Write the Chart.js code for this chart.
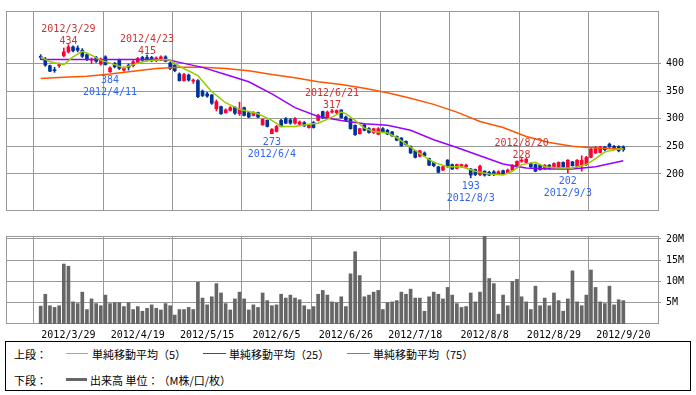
<!DOCTYPE html>
<html>
<head>
<meta charset="utf-8">
<script src="https://cdn.jsdelivr.net/npm/chart.js@4.4.0/dist/chart.umd.min.js"></script>
<style>
  body { margin: 0; background: #fff; width: 696px; height: 395px; overflow: hidden; position: relative; }
  #price { position: absolute; left: 0; top: 0; }
  #vol { position: absolute; left: 0; top: 225px; }
  #legend { position: absolute; left: 5px; top: 341px; width: 686px; height: 50px; box-sizing: border-box;
            border: 1px solid #000; font-family: "Noto Sans CJK JP", sans-serif; font-size: 11px; color: #000;
            text-spacing-trim: space-all; }
  #legend span { position: absolute; white-space: nowrap; line-height: 14px; }
  #legend i { position: absolute; display: block; }
</style>
</head>
<body>
<canvas id="price" width="696" height="222"></canvas>
<canvas id="vol" width="696" height="116"></canvas>
<div id="legend">
  <span style="left:8px;top:5px">上段：</span>
  <i style="left:60px;top:11px;width:22px;height:1px;background:#99cc00"></i>
  <span style="left:86px;top:5px">単純移動平均（5）</span>
  <i style="left:197px;top:11px;width:23px;height:1px;background:#9900ff"></i>
  <span style="left:223px;top:5px">単純移動平均（25）</span>
  <i style="left:341px;top:11px;width:23px;height:1px;background:#ff5500"></i>
  <span style="left:367px;top:5px">単純移動平均（75）</span>
  <span style="left:8px;top:31px">下段：</span>
  <i style="left:60px;top:36px;width:21px;height:3px;background:#666"></i>
  <span style="left:84px;top:31px">出来高 単位：（M株/口/枚）</span>
</div>
<script>
// 四本値 (index 0 = 2012/3/21 ... 126 = 2012/9/20)
const opens = [
  413,408,396,388,396,414,421,430,428,424,416,406,411,399,412,385,400,406,388,397,
  396,402,411,411,411,405,407,412,401,397,381,369,379,368,369,350,345,343,318,322,
  311,315,321,309,320,311,306,311,289,297,273,277,297,300,298,292,290,293,284,293,
  297,313,302,312,311,316,303,299,288,273,289,282,275,272,282,279,276,268,265,259,
  250,242,232,238,228,221,213,207,225,217,210,213,213,209,208,199,205,203,204,200,
  206,202,207,213,223,221,219,217,216,209,216,211,210,221,210,222,213,217,217,230,
  238,239,249,254,250,250,249
];
const highs = [
  416,411,397,393,401,428,434,432,432,427,419,410,413,410,414,394,402,408,394,399,
  406,411,413,415,413,412,414,414,403,398,383,382,381,372,371,352,348,344,334,323,
  318,322,322,330,321,313,313,312,300,298,282,288,299,302,300,302,296,295,290,295,
  308,314,314,317,316,316,305,300,289,283,290,284,283,284,284,281,277,269,266,260,
  251,243,243,240,229,222,214,214,226,218,218,218,218,210,209,216,206,205,206,206,
  207,209,217,224,228,228,220,218,217,217,217,220,222,222,226,223,226,233,232,248,
  250,250,250,256,252,251,251
];
const lows = [
  407,395,385,384,393,412,419,421,421,411,405,400,402,397,397,384,392,389,386,388,
  394,400,404,404,403,403,405,403,389,385,368,368,368,364,338,340,339,326,314,308,
  310,314,308,306,305,302,305,302,288,285,273,276,285,291,290,290,288,286,283,283,
  296,300,301,310,309,301,295,281,270,272,278,274,273,271,275,271,268,260,250,252,
  237,229,231,232,215,213,202,206,212,208,209,212,212,193,197,197,196,197,197,199,
  199,201,206,212,221,220,212,204,207,208,209,210,209,212,202,214,211,205,215,229,
  237,238,242,248,244,240,241
];
const closes = [
  411,397,386,387,399,421,430,423,424,413,407,408,404,407,398,392,394,391,392,393,
  403,409,406,406,405,410,412,404,391,387,369,380,370,370,340,342,341,328,331,309,
  316,320,310,317,306,303,311,303,299,286,281,286,286,292,292,300,294,287,288,284,
  306,303,312,314,315,302,297,282,271,282,279,275,282,282,276,272,269,261,251,253,
  238,230,242,233,216,215,203,213,213,209,217,217,216,198,199,214,198,198,199,204,
  200,207,216,223,225,227,213,205,208,216,210,219,221,213,225,215,225,225,230,245,
  248,249,244,249,246,242,244
];

// 出来高 (M株)
const volumes = [
  4.2,7.0,4.3,3.9,4.3,14.1,13.6,5.2,4.8,7.5,3.4,5.9,4.8,4.3,6.8,4.8,5.0,5.0,4.1,5.0,
  3.4,4.1,3.0,3.7,4.5,3.7,3.3,4.8,4.3,2.1,3.4,3.4,3.9,3.4,9.8,6.1,4.5,6.4,9.5,7.3,
  4.8,3.3,5.9,7.5,5.9,3.3,4.5,3.9,7.3,5.5,4.3,4.5,7.0,6.1,6.8,6.1,5.7,4.3,3.4,4.1,
  7.0,7.9,6.8,5.2,5.0,6.4,4.1,11.8,17.0,11.4,6.4,6.8,7.5,7.9,3.4,5.0,5.2,5.5,7.5,7.0,
  8.2,6.1,6.1,3.0,6.4,7.5,7.0,5.9,8.6,6.8,4.8,3.9,4.1,7.3,5.2,7.5,20.6,10.7,9.5,2.3,
  6.8,4.3,10.0,10.5,6.4,5.2,3.4,8.9,4.3,6.1,4.3,7.3,5.5,3.0,5.9,12.5,5.2,4.3,6.8,12.7,
  8.6,5.2,4.8,8.9,4.5,5.7,5.5
];

// 移動平均 (読み取り点: index, 値)
const ma5Idx = [0,2,5,7,9,11,13,16,18,20,23,27,28,30,34,37,40,43,47,50,52,55,58,60,63,65,66,68,70,72,75,77,79,82,85,88,91,94,97,100,102,104,107,109,112,115,118,120,122,125,126];
const ma5Val = [412,403,398,412,422,415,406,398,392,398,405,407,406,395,378,349,329,317,309,297,286,286,290,292,303,312,309,297,283,277,274,266,254,237,221,213,213,205,200,198,205,217,221,213,211,211,217,228,240,245,245];
const ma25Idx = [0,5,10,15,20,25,28,30,35,40,45,50,55,60,65,70,75,80,85,90,95,100,105,110,115,120,126];
const ma25Val = [407,407,407,407,407,407,406,402,393,380,367,345,320,304,297,291,288,279,262,248,233,218,211,209,209,213,224];
const ma75Idx = [0,5,10,15,20,25,30,35,40,45,50,55,60,65,70,75,80,85,90,95,100,105,110,115,120,126];
const ma75Val = [373,375,377,381,386,391,393,393,391,387,380,374,367,362,355,347,337,326,312,295,284,268,257,250,247,245];

// 目盛
const gridIdx = [6,21,36,51,66,81,96,111,126];
const gridLabels = ["2012/3/29","2012/4/19","2012/5/15","2012/6/5","2012/6/26","2012/7/18","2012/8/8","2012/8/29","2012/9/20"];
const priceTicks = [200,250,300,350,400];
const volTicks = [5,10,15,20];

// 高値・安値の注記
const annIdx = [6,15,23,50,63,93,104,114];
const annDate = ["2012/3/29","2012/4/11","2012/4/23","2012/6/4","2012/6/21","2012/8/3","2012/8/20","2012/9/3"];
const annVal = [434,384,415,273,317,193,228,202];
const annHigh = [true,false,true,false,true,false,true,false];

const UP = "#ff0033", DOWN = "#003399", GRID = "#999999";
const FONT = "'DejaVu Sans Mono', monospace";
Chart.defaults.font.family = FONT;
Chart.defaults.font.size = 10;
Chart.defaults.color = "#000";

function candleColor(ctx) {
  const i = ctx.dataIndex;
  return closes[i] >= opens[i] ? UP : DOWN;
}
function pts(xs, ys) {
  return xs.map((x, k) => ({ x: x, y: ys[k] }));
}

const frame = {
  id: "frame",
  beforeDatasetsDraw(chart) {
    const a = chart.chartArea, ctx = chart.ctx;
    ctx.save();
    ctx.strokeStyle = GRID;
    ctx.lineWidth = 1;
    ctx.strokeRect(a.left + 0.5, a.top + 0.5, a.right - a.left, a.bottom - a.top - 1);
    ctx.restore();
  }
};

const notes = {
  id: "notes",
  afterDatasetsDraw(chart) {
    const ctx = chart.ctx, xs = chart.scales.x, ys = chart.scales.y;
    ctx.save();
    ctx.font = "10px " + FONT;
    ctx.textAlign = "center";
    ctx.textBaseline = "alphabetic";
    annIdx.forEach((idx, k) => {
      const x = xs.getPixelForValue(idx);
      const y = ys.getPixelForValue(annVal[k]);
      if (annHigh[k]) {
        ctx.fillStyle = "#cc3333";
        ctx.fillText(String(annVal[k]), x, y - 1);
        ctx.fillText(annDate[k], x, y - 13);
      } else {
        ctx.fillStyle = "#3366ee";
        ctx.fillText(String(annVal[k]), x, y + 11);
        ctx.fillText(annDate[k], x, y + 23);
      }
    });
    ctx.restore();
  }
};

const xBase = {
  type: "linear",
  min: -7.5,
  max: 133.5,
  offset: false,
  border: { display: false },
  grid: { color: GRID, drawTicks: false },
  afterBuildTicks: (s) => { s.ticks = gridIdx.map((v) => ({ value: v })); }
};

// 上段: ローソク足 + 移動平均
new Chart(document.getElementById("price"), {
  type: "bar",
  data: {
    datasets: [
      { type: "line", data: pts(ma5Idx, ma5Val), borderColor: "#99cc00", borderWidth: 1.5, pointRadius: 0, order: 0 },
      { type: "line", data: pts(ma25Idx, ma25Val), borderColor: "#9900ff", borderWidth: 1.5, pointRadius: 0, order: 0 },
      { type: "line", data: pts(ma75Idx, ma75Val), borderColor: "#ff5500", borderWidth: 1.5, pointRadius: 0, order: 0 },
      {
        data: opens.map((o, i) => ({ x: i, y: [o, closes[i]] })),
        backgroundColor: candleColor, barThickness: 3, minBarLength: 1, grouped: false, order: 1
      },
      {
        data: lows.map((l, i) => ({ x: i, y: [l, highs[i]] })),
        backgroundColor: candleColor, barThickness: 1, grouped: false, order: 2
      }
    ]
  },
  options: {
    responsive: false,
    animation: false,
    devicePixelRatio: 1,
    layout: { padding: { left: 6, top: 7, right: 0, bottom: 0 } },
    plugins: { legend: { display: false }, tooltip: { enabled: false } },
    scales: {
      x: Object.assign({}, xBase, {
        ticks: { display: false },
        afterFit: (s) => { s.height = 4; }
      }),
      y: {
        position: "right",
        min: 133,
        max: 495,
        border: { display: false },
        grid: { color: GRID, tickLength: 3 },
        ticks: { padding: 5 },
        afterBuildTicks: (s) => { s.ticks = priceTicks.map((v) => ({ value: v })); },
        afterFit: (s) => { s.width = 38; }
      }
    }
  },
  plugins: [frame, notes]
});

// 下段: 出来高
new Chart(document.getElementById("vol"), {
  type: "bar",
  data: {
    datasets: [
      { data: volumes.map((v, i) => ({ x: i, y: v })), backgroundColor: "#666666", barThickness: 3, grouped: false }
    ]
  },
  options: {
    responsive: false,
    animation: false,
    devicePixelRatio: 1,
    layout: { padding: { left: 6, top: 8, right: 0, bottom: 0 } },
    plugins: { legend: { display: false }, tooltip: { enabled: false } },
    scales: {
      x: Object.assign({}, xBase, {
        ticks: {
          padding: 5,
          maxRotation: 0,
          autoSkip: false,
          callback: (v) => gridLabels[gridIdx.indexOf(v)]
        },
        afterFit: (s) => { s.height = 17; }
      }),
      y: {
        position: "right",
        min: 0,
        max: 20.7,
        border: { display: false },
        grid: { color: GRID, tickLength: 3 },
        ticks: { padding: 5, callback: (v) => v + "M" },
        afterBuildTicks: (s) => { s.ticks = volTicks.map((v) => ({ value: v })); },
        afterFit: (s) => { s.width = 38; }
      }
    }
  },
  plugins: [frame]
});
</script>
</body>
</html>
